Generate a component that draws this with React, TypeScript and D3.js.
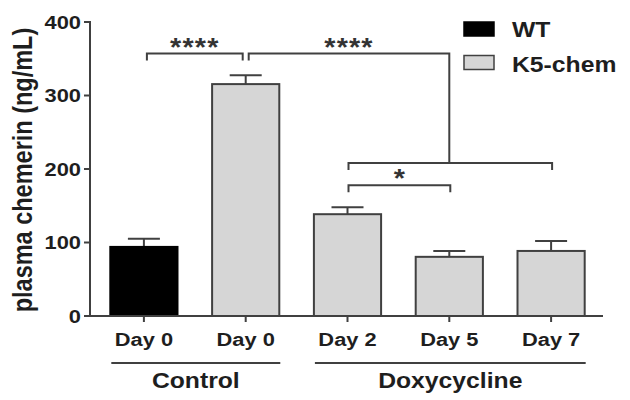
import React from "react";
import * as d3 from "d3";

const categories = ["Day 0", "Day 0 ", "Day 2", "Day 5", "Day 7"];
const tickLabels = ["Day 0", "Day 0", "Day 2", "Day 5", "Day 7"];
const means = [94, 315.5, 138.5, 80.5, 88.5];
const errors = [11, 12, 9.5, 8, 13.5];
const groupOf = ["WT", "K5-chem", "K5-chem", "K5-chem", "K5-chem"];
const yTicks = [0, 100, 200, 300, 400];
const legendItems = ["WT", "K5-chem"];
const groups = [
  { label: "Control", from: 0, to: 1 },
  { label: "Doxycycline", from: 2, to: 4 },
];
const brackets = [
  { from: 0, to: 1, level: 357, label: "****" },
  { from: 2, to: 4, level: 208, label: "" },
  { from: 2, to: 3, level: 178, label: "*" },
];

const W = 630;
const H = 400;
const SX = 1.15;
const LINE = "#404040";
const TEXT = "#1e1e1e";
const FONT = "'Liberation Sans', Arial, Helvetica, sans-serif";

function T({ x, y, anchor = "start", size, children, rot = false, ls = 0, fill = TEXT }: any) {
  const tr = rot
    ? `translate(${x},${y}) scale(${SX},1) rotate(-90)`
    : `translate(${x},${y}) scale(${SX},1)`;
  return (
    <text
      transform={tr}
      textAnchor={anchor}
      fontSize={size}
      fontWeight="bold"
      fontFamily={FONT}
      fill={fill}
      letterSpacing={ls}
    >
      {children}
    </text>
  );
}

export default function App() {
  const x = d3.scaleBand().domain(categories).range([93, 602]).paddingInner(0.34).paddingOuter(0.17);
  const y = d3.scaleLinear().domain([0, 400]).range([316, 22]);
  const color = d3.scaleOrdinal<string, string>().domain(legendItems).range(["#000000", "#d6d6d6"]);
  const bw = x.bandwidth();
  const cx = (i: number) => (x(categories[i]) as number) + bw / 2;
  const axisX0 = 90;
  const axisX1 = 603;

  const b0 = brackets[0];
  const b1 = brackets[1];
  const b2 = brackets[2];
  const b1mid = (cx(b1.from) + 3 + cx(b1.to) - 3) / 2;
  const starDy = 2;

  return (
    <svg width={W} height={H} style={{ position: "absolute", left: 0, top: 0, background: "#fff" }}>
      <rect x={0} y={0} width={W} height={H} fill="#fff" />
      {means.map((m, i) => (
        <g key={i}>
          <line x1={cx(i)} x2={cx(i)} y1={y(m)} y2={y(m + errors[i])} stroke={LINE} strokeWidth={2} />
          <line x1={cx(i) - 16} x2={cx(i) + 16} y1={y(m + errors[i])} y2={y(m + errors[i])} stroke={LINE} strokeWidth={2} />
          <rect
            x={x(categories[i])}
            y={y(m)}
            width={bw}
            height={y(0) - y(m)}
            fill={color(groupOf[i])}
            stroke={groupOf[i] === "WT" ? "#000" : LINE}
            strokeWidth={2}
          />
        </g>
      ))}
      <line x1={axisX0} x2={axisX0} y1={y(400) - 1} y2={y(0) + 1} stroke={LINE} strokeWidth={2} />
      {yTicks.map((t) => (
        <g key={t}>
          <line x1={axisX0 - 6} x2={axisX0} y1={y(t)} y2={y(t)} stroke={LINE} strokeWidth={2} />
          <T x={81} y={y(t) + 6.8} anchor="end" size={19}>
            {String(t)}
          </T>
        </g>
      ))}
      <T x={32} y={170} anchor="middle" size={23.5} rot>
        plasma chemerin (ng/mL)
      </T>
      <line x1={axisX0} x2={axisX1} y1={y(0)} y2={y(0)} stroke={LINE} strokeWidth={2} />
      {categories.map((c, i) => (
        <g key={c}>
          <line x1={cx(i)} x2={cx(i)} y1={y(0)} y2={y(0) + 6} stroke={LINE} strokeWidth={2} />
          <T x={cx(i)} y={345.5} anchor="middle" size={19}>
            {tickLabels[i]}
          </T>
        </g>
      ))}
      {groups.map((g) => {
        const x0 = (x(categories[g.from]) as number) + 1;
        const x1 = (x(categories[g.to]) as number) + bw + 1;
        return (
          <g key={g.label}>
            <line x1={x0} x2={x1} y1={363} y2={363} stroke={LINE} strokeWidth={2} />
            <T x={(x0 + x1) / 2} y={387.5} anchor="middle" size={21.5}>
              {g.label}
            </T>
          </g>
        );
      })}
      <path
        d={`M${cx(b0.from) + 3},${y(b0.level) + 7}V${y(b0.level)}H${cx(b0.to) - 3}V${y(b0.level) + 7}`}
        fill="none"
        stroke={LINE}
        strokeWidth={2}
      />
      <T x={(cx(b0.from) + cx(b0.to)) / 2} y={y(b0.level) + starDy} anchor="middle" size={25} ls={1} fill="#333">
        {b0.label}
      </T>
      <path
        d={`M${cx(b0.to) + 3},${y(b0.level) + 7}V${y(b0.level)}H${b1mid}V${y(b1.level)}`}
        fill="none"
        stroke={LINE}
        strokeWidth={2}
      />
      <T x={(cx(b0.to) + 3 + b1mid) / 2} y={y(b0.level) + starDy} anchor="middle" size={25} ls={1} fill="#333">
        ****
      </T>
      <path
        d={`M${cx(b1.from) + 1},${y(b1.level) + 7}V${y(b1.level)}H${cx(b1.to) + 1}V${y(b1.level) + 7}`}
        fill="none"
        stroke={LINE}
        strokeWidth={2}
      />
      <path
        d={`M${cx(b2.from) + 1},${y(b2.level) + 7}V${y(b2.level)}H${cx(b2.to) + 1}V${y(b2.level) + 7}`}
        fill="none"
        stroke={LINE}
        strokeWidth={2}
      />
      <T x={(cx(b2.from) + cx(b2.to)) / 2 + 1} y={y(b2.level) + starDy} anchor="middle" size={25} fill="#333">
        {b2.label}
      </T>
      {legendItems.map((l, i) => (
        <g key={l}>
          <rect
            x={464}
            y={22 + i * 33.5}
            width={30}
            height={14}
            fill={color(l)}
            stroke={l === "WT" ? "#000" : LINE}
            strokeWidth={1.5}
          />
          <T x={512} y={37 + i * 34.5} size={21.5}>
            {l}
          </T>
        </g>
      ))}
    </svg>
  );
}
